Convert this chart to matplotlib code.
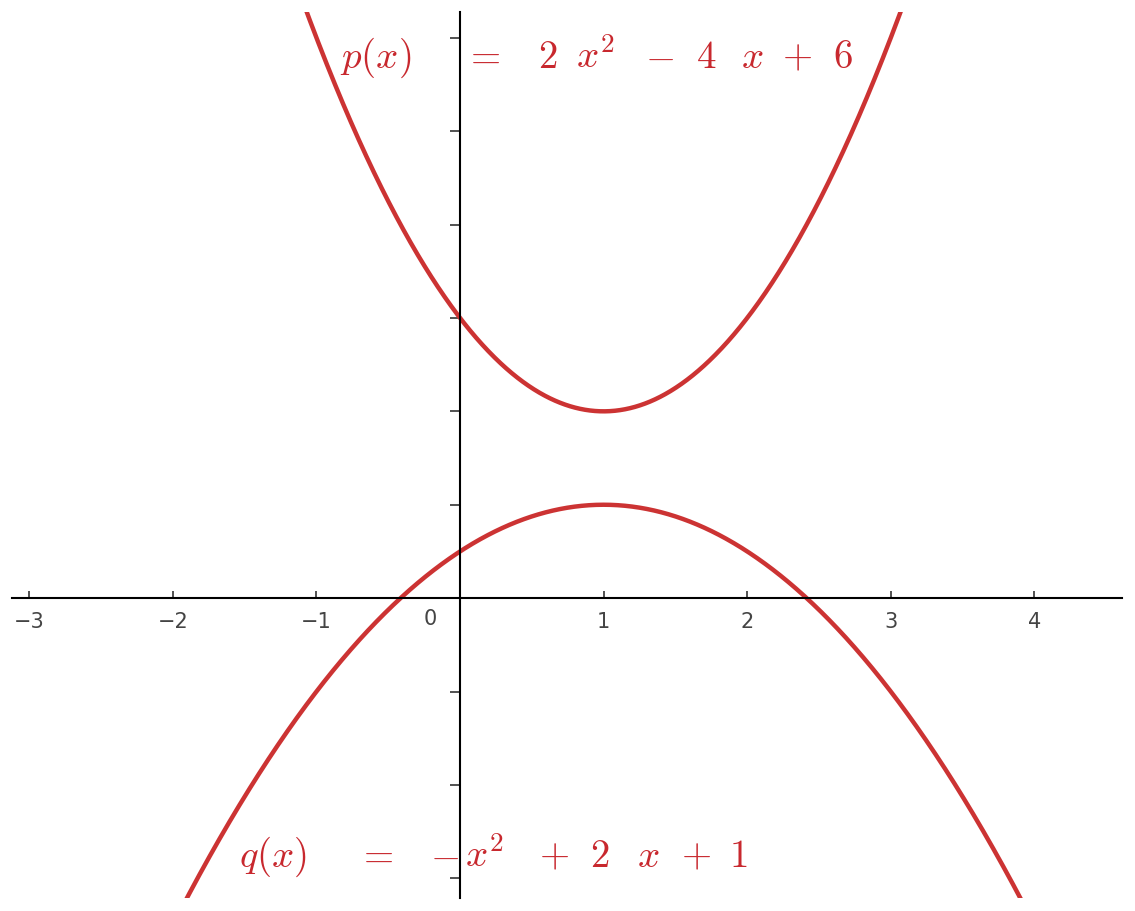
import matplotlib
matplotlib.use("Agg")
import matplotlib.pyplot as plt
import numpy as np

P_COEFFS = [2, -4, 6]
Q_COEFFS = [-1, 2, 1]

# the equation labels are set token by token to copy the wide spacing
P_TOKENS = [r"$p(x)$", r"$=$", r"$2$", r"$x^2$", r"$-$", r"$4$", r"$x$", r"$+$", r"$6$"]
P_TOKEN_X = [-0.585, 0.153, 0.612, 0.946, 1.392, 1.712, 2.032, 2.345, 2.665]
P_BASE_Y = 11.35
Q_TOKENS = [r"$q(x)$", r"$=$", r"$-$", r"$x^2$", r"$+$", r"$2$", r"$x$", r"$+$", r"$1$"]
Q_TOKEN_X = [-1.301, -0.592, -0.111, 0.167, 0.654, 0.974, 1.308, 1.642, 1.935]
Q_BASE_Y = -5.76

X_TICKS = [-3, -2, -1, 1, 2, 3, 4]
Y_TICKS = [-6, -4, -2, 2, 4, 6, 8, 10, 12]

XLIM = (-3.12, 4.61)
YLIM = (-6.42, 12.55)

CURVE_COLOR = "#cc3333"
TEXT_COLOR = "#c8282e"
LABEL_COLOR = "#444444"

plt.rcParams["mathtext.fontset"] = "cm"

fig = plt.figure(figsize=(11.35, 9.11), dpi=100)
ax = fig.add_axes([12 / 1135, 13 / 911, 1110 / 1135, 886 / 911])

x = np.linspace(XLIM[0], XLIM[1], 2000)
ax.plot(x, np.polyval(P_COEFFS, x), color=CURVE_COLOR, lw=3.2, solid_capstyle="butt")
ax.plot(x, np.polyval(Q_COEFFS, x), color=CURVE_COLOR, lw=3.2, solid_capstyle="butt")

ax.set_xlim(*XLIM)
ax.set_ylim(*YLIM)
ax.patch.set_visible(False)

for side in ["top", "right"]:
    ax.spines[side].set_visible(False)
ax.spines["left"].set_position(("data", 0))
ax.spines["bottom"].set_position(("data", 0))
for side in ["left", "bottom"]:
    ax.spines[side].set_linewidth(1.5)
    ax.spines[side].set_color("black")

ax.set_xticks(X_TICKS)
ax.set_xticklabels([f"\u2212{abs(t)}" if t < 0 else str(t) for t in X_TICKS])
ax.set_yticks(Y_TICKS)
ax.set_yticklabels([])
ax.tick_params(axis="x", direction="in", length=5, width=1.2, pad=10,
               labelsize=15, labelcolor=LABEL_COLOR, color="#333333")
ax.tick_params(axis="y", direction="out", length=7, width=1.2, color="#333333")
ax.text(-0.21, -0.24, "0", fontsize=15, color=LABEL_COLOR, ha="center", va="top")

for tok, tx in zip(P_TOKENS, P_TOKEN_X):
    ax.text(tx, P_BASE_Y, tok, fontsize=28, color=TEXT_COLOR, ha="center", va="baseline")
for tok, tx in zip(Q_TOKENS, Q_TOKEN_X):
    ax.text(tx, Q_BASE_Y, tok, fontsize=28, color=TEXT_COLOR, ha="center", va="baseline")

fig.savefig("out.png", dpi=100)
